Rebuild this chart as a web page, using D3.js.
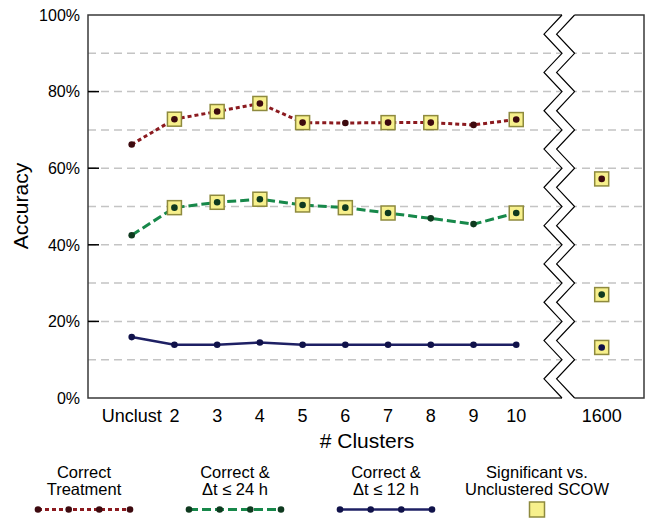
<!DOCTYPE html>
<html lang="en">
<head>
    <meta charset="utf-8">
    <style type="text/css">
        body { margin: 0; background: white; }
        text { font-family: "Liberation Sans", Arial, sans-serif; fill: black; }
        .y_tick_text { font-size: 16px; }
        .x_tick_text { font-size: 18px; }
        .axis_title { font-size: 21px; }
        .legend_text { font-size: 16.5px; }
    </style>
</head>
<body>
<div id="graph"></div>
<script src="https://cdn.jsdelivr.net/npm/d3@7"></script>
<script type="text/javascript">
    // categories along the x axis ("gap" is the broken part, not drawn)
    var clusters = ["Unclust", "2", "3", "4", "5", "6", "7", "8", "9", "10", "gap", "1600"];
    var yTicks = [0, 20, 40, 60, 80, 100];
    var gridValues = [10, 20, 30, 40, 50, 60, 70, 80, 90];

    // accuracy in %, one value per cluster (null for the gap)
    var correctTreatment = [66.2, 72.8, 74.8, 76.9, 71.9, 71.8, 71.9, 71.9, 71.3, 72.7, null, 57.2];
    var correct24h = [42.5, 49.7, 51.1, 51.9, 50.4, 49.7, 48.3, 46.9, 45.4, 48.3, null, 27.0];
    var correct12h = [15.9, 13.9, 13.9, 14.5, 13.9, 13.9, 13.9, 13.9, 13.9, 13.9, null, 13.2];

    // significant vs. unclustered SCOW (1 = marked with a yellow square)
    var sigTreatment = [0, 1, 1, 1, 1, 0, 1, 1, 0, 1, 0, 1];
    var sig24h = [0, 1, 1, 1, 1, 1, 1, 0, 0, 1, 0, 1];
    var sig12h = [0, 0, 0, 0, 0, 0, 0, 0, 0, 0, 0, 1];

    var series = [
        {name: ["Correct", "Treatment"], values: correctTreatment, sig: sigTreatment,
         line: "#8b1a1f", dot: "#3d0a0f", dash: "4,3", width: 3},
        {name: ["Correct &", "\u0394t \u2264 24 h"], values: correct24h, sig: sig24h,
         line: "#17884a", dot: "#0f3a1f", dash: "9,4", width: 3},
        {name: ["Correct &", "\u0394t \u2264 12 h"], values: correct12h, sig: sig12h,
         line: "#1e2064", dot: "#10124a", dash: null, width: 2.5}
    ];

    var width = 646, height = 518;
    var plotLeft = 88, plotTop = 15, plotBottom = 398, breakX = 562, plotRight = 644, breakGap = 12.6, zig = 18;

    var svg = d3.select("#graph")
        .append("svg")
        .attr("width", width)
        .attr("height", height);

    var x = d3.scalePoint()
        .domain(clusters)
        .range([131.7, 601.7]);

    var y = d3.scaleLinear()
        .domain([0, 100])
        .range([plotBottom, plotTop]);

    // zigzag break outlines
    var zigLeft = [], zigRight = [];
    for (var k = 0; k <= 20; k++) {
        var yy = y(100 - k * 5);
        var off = (k % 2 == 0) ? 0 : -zig;
        zigLeft.push([breakX + off, yy]);
        zigRight.push([breakX + breakGap + off, yy]);
    }

    var leftPanel = [[breakX, plotTop], [plotLeft, plotTop], [plotLeft, plotBottom], [breakX, plotBottom]];
    var leftClip = [[plotLeft, plotTop]].concat(zigLeft).concat([[plotLeft, plotBottom]]);
    var rightClip = [[plotRight, plotTop]].concat(zigRight).concat([[plotRight, plotBottom]]);

    var defs = svg.append("defs");
    defs.append("clipPath").attr("id", "clipL")
        .append("polygon").attr("points", leftClip.map(function(p){ return p.join(","); }).join(" "));
    defs.append("clipPath").attr("id", "clipR")
        .append("polygon").attr("points", rightClip.map(function(p){ return p.join(","); }).join(" "));

    // gridlines
    ["clipL", "clipR"].forEach(function(c){
        svg.append("g")
            .attr("clip-path", "url(#" + c + ")")
            .selectAll("line")
            .data(gridValues)
            .enter()
            .append("line")
            .attr("x1", plotLeft)
            .attr("x2", plotRight)
            .attr("y1", function(d){ return y(d); })
            .attr("y2", function(d){ return y(d); })
            .attr("stroke", "#c4c4c4")
            .attr("stroke-width", 1.5)
            .attr("stroke-dasharray", "8,5");
    });

    // frame
    svg.append("path")
        .attr("d", d3.line()(leftPanel))
        .attr("fill", "none")
        .attr("stroke", "#3a3a3a")
        .attr("stroke-width", 1.5);
    svg.append("path")
        .attr("d", d3.line()(zigLeft))
        .attr("fill", "none")
        .attr("stroke", "black")
        .attr("stroke-width", 1.2);
    svg.append("path")
        .attr("d", d3.line()([[breakX + breakGap, plotTop], [plotRight, plotTop], [plotRight, plotBottom], [breakX + breakGap, plotBottom]]))
        .attr("fill", "none")
        .attr("stroke", "#3a3a3a")
        .attr("stroke-width", 1.5);
    svg.append("path")
        .attr("d", d3.line()(zigRight))
        .attr("fill", "none")
        .attr("stroke", "black")
        .attr("stroke-width", 1.2);

    // y ticks (inward) and labels
    svg.selectAll(".ytick")
        .data(yTicks.filter(function(d){ return d > 0 && d < 100; }))
        .enter()
        .append("line")
        .attr("x1", plotLeft)
        .attr("x2", plotLeft + 11)
        .attr("y1", function(d){ return y(d); })
        .attr("y2", function(d){ return y(d); })
        .attr("stroke", "black")
        .attr("stroke-width", 1.5);

    svg.selectAll(".ylabel")
        .data(yTicks)
        .enter()
        .append("text")
        .attr("class", "y_tick_text")
        .attr("x", plotLeft - 8)
        .attr("y", function(d){ return y(d); })
        .attr("dy", "0.36em")
        .attr("text-anchor", "end")
        .text(function(d){ return d + "%"; });

    // x labels
    svg.selectAll(".xlabel")
        .data(clusters.filter(function(d){ return d != "gap"; }))
        .enter()
        .append("text")
        .attr("class", "x_tick_text")
        .attr("x", function(d){ return x(d); })
        .attr("y", 422)
        .attr("text-anchor", "middle")
        .text(function(d){ return d; });

    svg.append("text")
        .attr("class", "axis_title")
        .attr("x", 367)
        .attr("y", 448)
        .attr("text-anchor", "middle")
        .text("# Clusters");

    svg.append("text")
        .attr("class", "axis_title")
        .attr("transform", "translate(28," + 206 + ") rotate(-90)")
        .attr("text-anchor", "middle")
        .text("Accuracy");

    // lines (only up to 10, the 1600 point stands alone)
    var line = d3.line()
        .defined(function(d){ return d.v != null; })
        .x(function(d){ return x(d.c); })
        .y(function(d){ return y(d.v); });

    series.forEach(function(s){
        var pts = clusters.map(function(c, i){ return {c: c, v: s.values[i], sig: s.sig[i]}; });
        s.pts = pts;
        svg.append("path")
            .datum(pts.slice(0, 10))
            .attr("d", line)
            .attr("fill", "none")
            .attr("stroke", s.line)
            .attr("stroke-width", s.width)
            .attr("stroke-dasharray", s.dash);
    });

    series.forEach(function(s){
        svg.selectAll(null)
            .data(s.pts.filter(function(d){ return d.sig == 1; }))
            .enter()
            .append("rect")
            .attr("x", function(d){ return x(d.c) - 7; })
            .attr("y", function(d){ return y(d.v) - 7; })
            .attr("width", 14)
            .attr("height", 14)
            .attr("fill", "#f7f08c")
            .attr("stroke", "#8e8a3e")
            .attr("stroke-width", 1.5);
    });

    series.forEach(function(s){
        svg.selectAll(null)
            .data(s.pts.filter(function(d){ return d.v != null; }))
            .enter()
            .append("circle")
            .attr("cx", function(d){ return x(d.c); })
            .attr("cy", function(d){ return y(d.v); })
            .attr("r", 3.3)
            .attr("fill", s.dot);
    });

    // legend
    var legendX = [84, 235, 386, 537];
    var legendY = 509.5;

    series.forEach(function(s, i){
        var g = svg.append("g").attr("transform", "translate(" + legendX[i] + ",0)");
        g.selectAll("text")
            .data(s.name)
            .enter()
            .append("text")
            .attr("class", "legend_text")
            .attr("x", 0)
            .attr("y", function(d, j){ return 477.5 + j * 17.5; })
            .attr("text-anchor", "middle")
            .text(function(d){ return d; });
        g.append("line")
            .attr("x1", -46)
            .attr("x2", 46)
            .attr("y1", legendY)
            .attr("y2", legendY)
            .attr("stroke", s.line)
            .attr("stroke-width", s.width)
            .attr("stroke-dasharray", s.dash);
        g.selectAll("circle")
            .data([-46, -15.3, 15.3, 46])
            .enter()
            .append("circle")
            .attr("cx", function(d){ return d; })
            .attr("cy", legendY)
            .attr("r", 3.3)
            .attr("fill", s.dot);
    });

    var sg = svg.append("g").attr("transform", "translate(" + legendX[3] + ",0)");
    sg.selectAll("text")
        .data(["Significant vs.", "Unclustered SCOW"])
        .enter()
        .append("text")
        .attr("class", "legend_text")
        .attr("x", 0)
        .attr("y", function(d, j){ return 477.5 + j * 17.5; })
        .attr("text-anchor", "middle")
        .text(function(d){ return d; });
    sg.append("rect")
        .attr("x", -7.5)
        .attr("y", legendY - 7.5)
        .attr("width", 15)
        .attr("height", 15)
        .attr("fill", "#f7f08c")
        .attr("stroke", "#8e8a3e")
        .attr("stroke-width", 1.5);
</script>
</body>
</html>
